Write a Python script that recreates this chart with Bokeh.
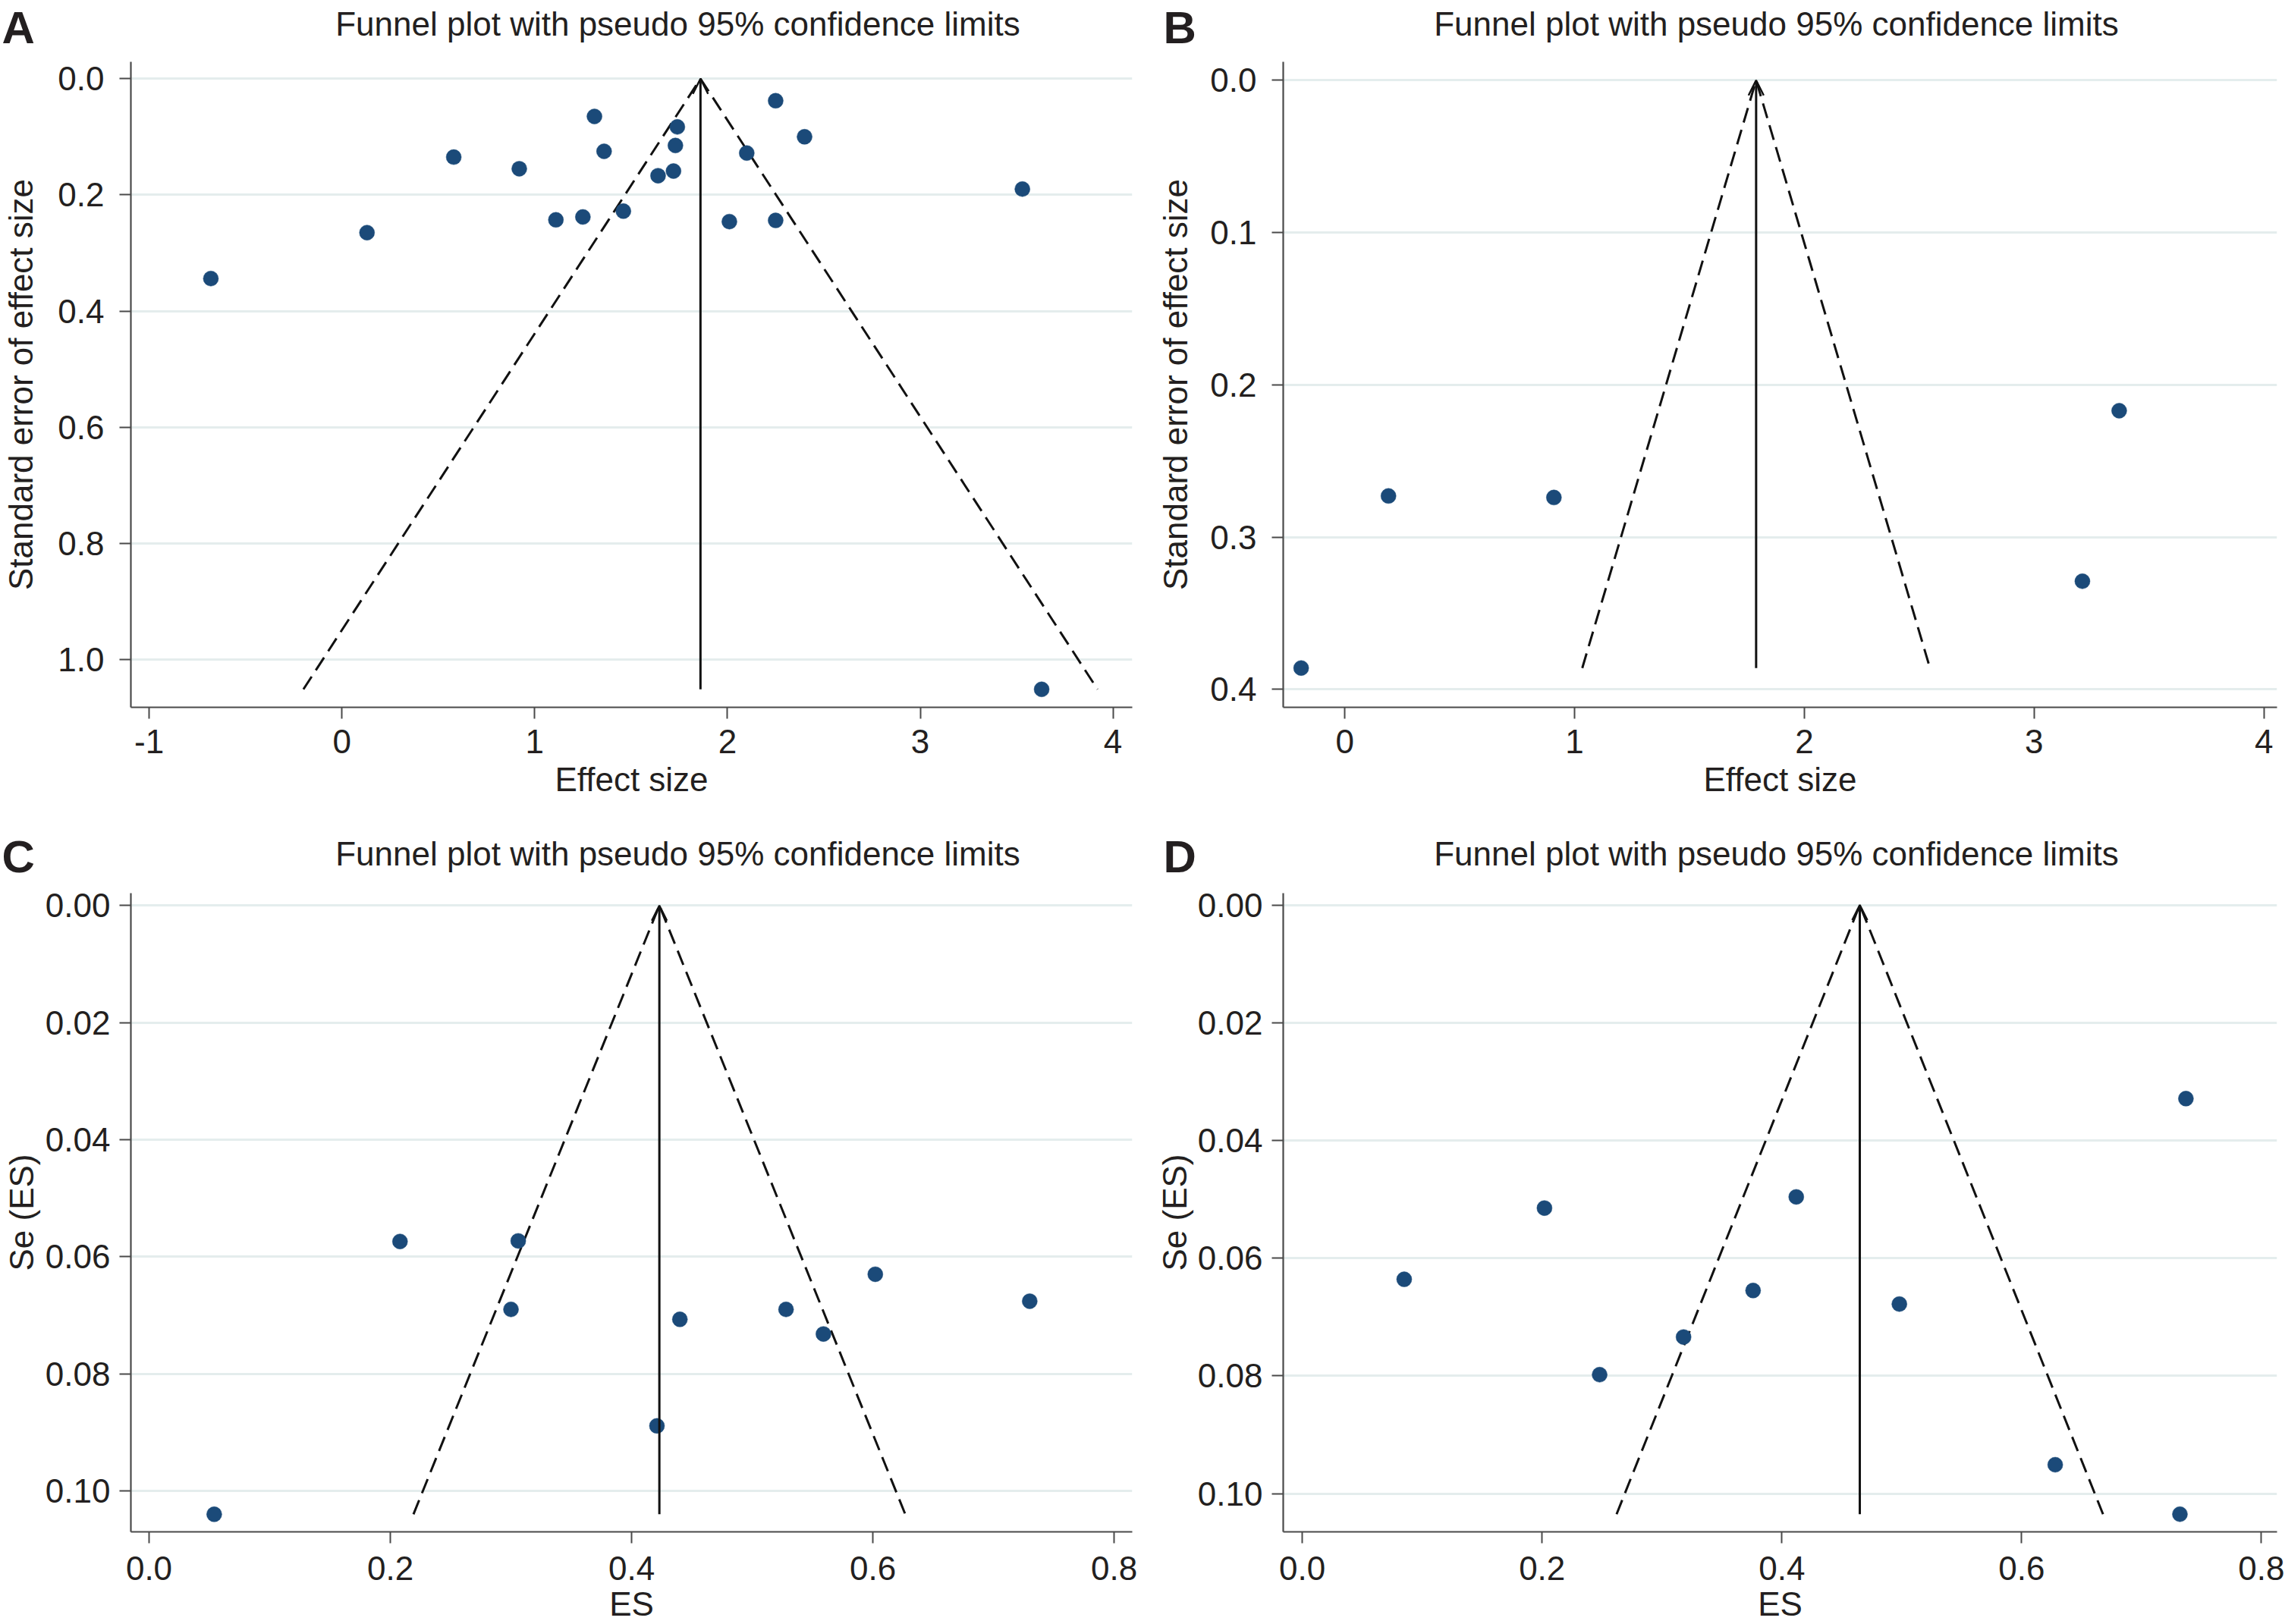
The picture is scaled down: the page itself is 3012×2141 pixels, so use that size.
from bokeh.plotting import figure
from bokeh.models import Range1d, FixedTicker, PrintfTickFormatter, Label, Arrow, OpenHead
from bokeh.layouts import column, row
from bokeh.embed import file_html
from bokeh.resources import INLINE

# ---------------- data ----------------
a_es = [-0.68, 0.13, 0.58, 0.92, 1.31, 1.36, 1.11, 1.25, 1.46, 1.64, 1.72, 1.73, 1.74,
        2.01, 2.10, 2.25, 2.25, 2.40, 3.53, 3.63]
a_se = [0.344, 0.265, 0.135, 0.155, 0.065, 0.125, 0.243, 0.238, 0.228, 0.167, 0.159, 0.115,
        0.083, 0.246, 0.128, 0.038, 0.244, 0.100, 0.190, 1.051]
a_pooled = 1.86
a_maxse = 1.051
a_xticks = [-1, 0, 1, 2, 3, 4]
a_yticks = [0.0, 0.2, 0.4, 0.6, 0.8, 1.0]

b_es = [-0.19, 0.19, 0.91, 3.21, 3.37]
b_se = [0.386, 0.273, 0.274, 0.329, 0.217]
b_pooled = 1.79
b_maxse = 0.386
b_xticks = [0, 1, 2, 3, 4]
b_yticks = [0.0, 0.1, 0.2, 0.3, 0.4]

c_es = [0.054, 0.208, 0.306, 0.300, 0.421, 0.440, 0.528, 0.559, 0.602, 0.730]
c_se = [0.1040, 0.0574, 0.0573, 0.0690, 0.0889, 0.0707, 0.0690, 0.0732, 0.0630, 0.0676]
c_pooled = 0.423
c_maxse = 0.104
c_xticks = [0.0, 0.2, 0.4, 0.6, 0.8]
c_yticks = [0.00, 0.02, 0.04, 0.06, 0.08, 0.10]

d_es = [0.085, 0.202, 0.248, 0.318, 0.376, 0.412, 0.498, 0.628, 0.732, 0.737]
d_se = [0.0636, 0.0515, 0.0798, 0.0734, 0.0655, 0.0496, 0.0678, 0.0951, 0.1035, 0.0329]
d_pooled = 0.465
d_maxse = 0.1035
d_xticks = [0.0, 0.2, 0.4, 0.6, 0.8]
d_yticks = [0.00, 0.02, 0.04, 0.06, 0.08, 0.10]

TITLE = "Funnel plot with pseudo 95% confidence limits"
FONT = "Liberation Sans"
TXT = "#231f20"
AX = "#4a4a4a"
DOT = "#1b4a79"
W = 1506


def header(h, letter, title_x, title_top, let_x, let_top):
    p = figure(width=W, height=h, output_backend="svg", toolbar_location=None,
               title=None, x_axis_location=None, y_axis_location=None,
               x_range=Range1d(0, W), y_range=Range1d(0, h),
               min_border_left=0, min_border_right=0, min_border_top=0,
               min_border_bottom=0)
    p.outline_line_color = None
    p.grid.visible = False
    p.add_layout(Label(x=title_x, y=h - title_top, x_units="screen", y_units="screen",
                       text=TITLE, text_font=FONT, text_font_size="44px",
                       text_color=TXT, text_align="center", text_baseline="top"))
    p.add_layout(Label(x=let_x, y=h - let_top, x_units="screen", y_units="screen",
                       text=letter, text_font=FONT, text_font_size="60px",
                       text_font_style="bold", text_color=TXT,
                       text_align="left", text_baseline="top"))
    return p


def panel(es, se, pooled, maxse, xr, yr, xticks, yticks, xfmt, yfmt, xlabel, ylabel,
          h, bl, br, bt, bb, ystand, ylabstand, xstand, xlabstand):
    p = figure(width=W, height=h, output_backend="svg", toolbar_location=None,
               title=None, x_range=Range1d(*xr), y_range=Range1d(*yr),
               min_border_left=bl, min_border_right=br, min_border_top=bt,
               min_border_bottom=bb)
    p.outline_line_color = None
    p.background_fill_color = "white"
    p.border_fill_color = "white"
    p.xgrid.visible = False
    p.ygrid.grid_line_color = "#e4eded"
    p.ygrid.grid_line_width = 3

    for ax in (p.xaxis[0], p.yaxis[0]):
        ax.axis_line_color = AX
        ax.axis_line_width = 2.2
        ax.major_tick_line_color = AX
        ax.major_tick_line_width = 2
        ax.major_tick_out = 15
        ax.major_tick_in = 0
        ax.minor_tick_line_color = None
        ax.major_label_text_font = FONT
        ax.major_label_text_font_size = "44px"
        ax.major_label_text_color = TXT
        ax.axis_label_text_font = FONT
        ax.axis_label_text_font_size = "44px"
        ax.axis_label_text_font_style = "normal"
        ax.axis_label_text_color = TXT

    p.xaxis.ticker = FixedTicker(ticks=xticks)
    p.yaxis.ticker = FixedTicker(ticks=yticks)
    p.xaxis.formatter = PrintfTickFormatter(format=xfmt)
    p.yaxis.formatter = PrintfTickFormatter(format=yfmt)
    p.xaxis.axis_label = xlabel
    p.yaxis.axis_label = ylabel
    p.xaxis.major_label_standoff = xstand
    p.xaxis.axis_label_standoff = xlabstand
    p.yaxis.major_label_standoff = ystand
    p.yaxis.axis_label_standoff = ylabstand

    half = 1.96 * maxse
    p.line([pooled - half, pooled, pooled + half], [maxse, 0, maxse],
           line_color="#111111", line_width=3, line_dash="20 10")
    p.add_layout(Arrow(x_start=pooled, y_start=maxse, x_end=pooled, y_end=0,
                       line_color="#111111", line_width=3,
                       end=OpenHead(size=20, line_width=2.5, line_color="#111111")))
    p.scatter(es, se, size=20, fill_color=DOT, line_color=DOT, line_width=0.5)
    return p


hA = header(70, "A", 893, 6, 2, 2)
hB = header(70, "B", 835, 6, 27, 2)
hC = header(95, "C", 893, 30, 2, 25)
hD = header(95, "D", 835, 30, 27, 25)

pA = panel(a_es, a_se, a_pooled, a_maxse, (-1.095, 4.10), (1.082, -0.029),
           a_xticks, a_yticks, "%d", "%.1f", "Effect size", "Standard error of effect size",
           1000, 170, 14, 11, 138, 20, 21, 14, 7)
pB = panel(b_es, b_se, b_pooled, b_maxse, (-0.268, 4.057), (0.4118, -0.0121),
           b_xticks, b_yticks, "%d", "%.1f", "Effect size", "Standard error of effect size",
           1000, 185, 11, 11, 138, 20, 18, 14, 7)
pC = panel(c_es, c_se, c_pooled, c_maxse, (-0.0151, 0.815), (0.107, -0.0021),
           c_xticks, c_yticks, "%.1f", "%.2f", "ES", "Se (ES)",
           976, 170, 14, 12, 118, 12, 4, 17, 4)
pD = panel(d_es, d_se, d_pooled, d_maxse, (-0.0159, 0.813), (0.1065, -0.002),
           d_xticks, d_yticks, "%.1f", "%.2f", "ES", "Se (ES)",
           976, 185, 11, 12, 118, 12, 3, 17, 4)

layout = column(row(hA, hB, spacing=0), row(pA, pB, spacing=0),
                row(hC, hD, spacing=0), row(pC, pD, spacing=0), spacing=0)
open("out.html", "w").write(file_html(layout, INLINE))
